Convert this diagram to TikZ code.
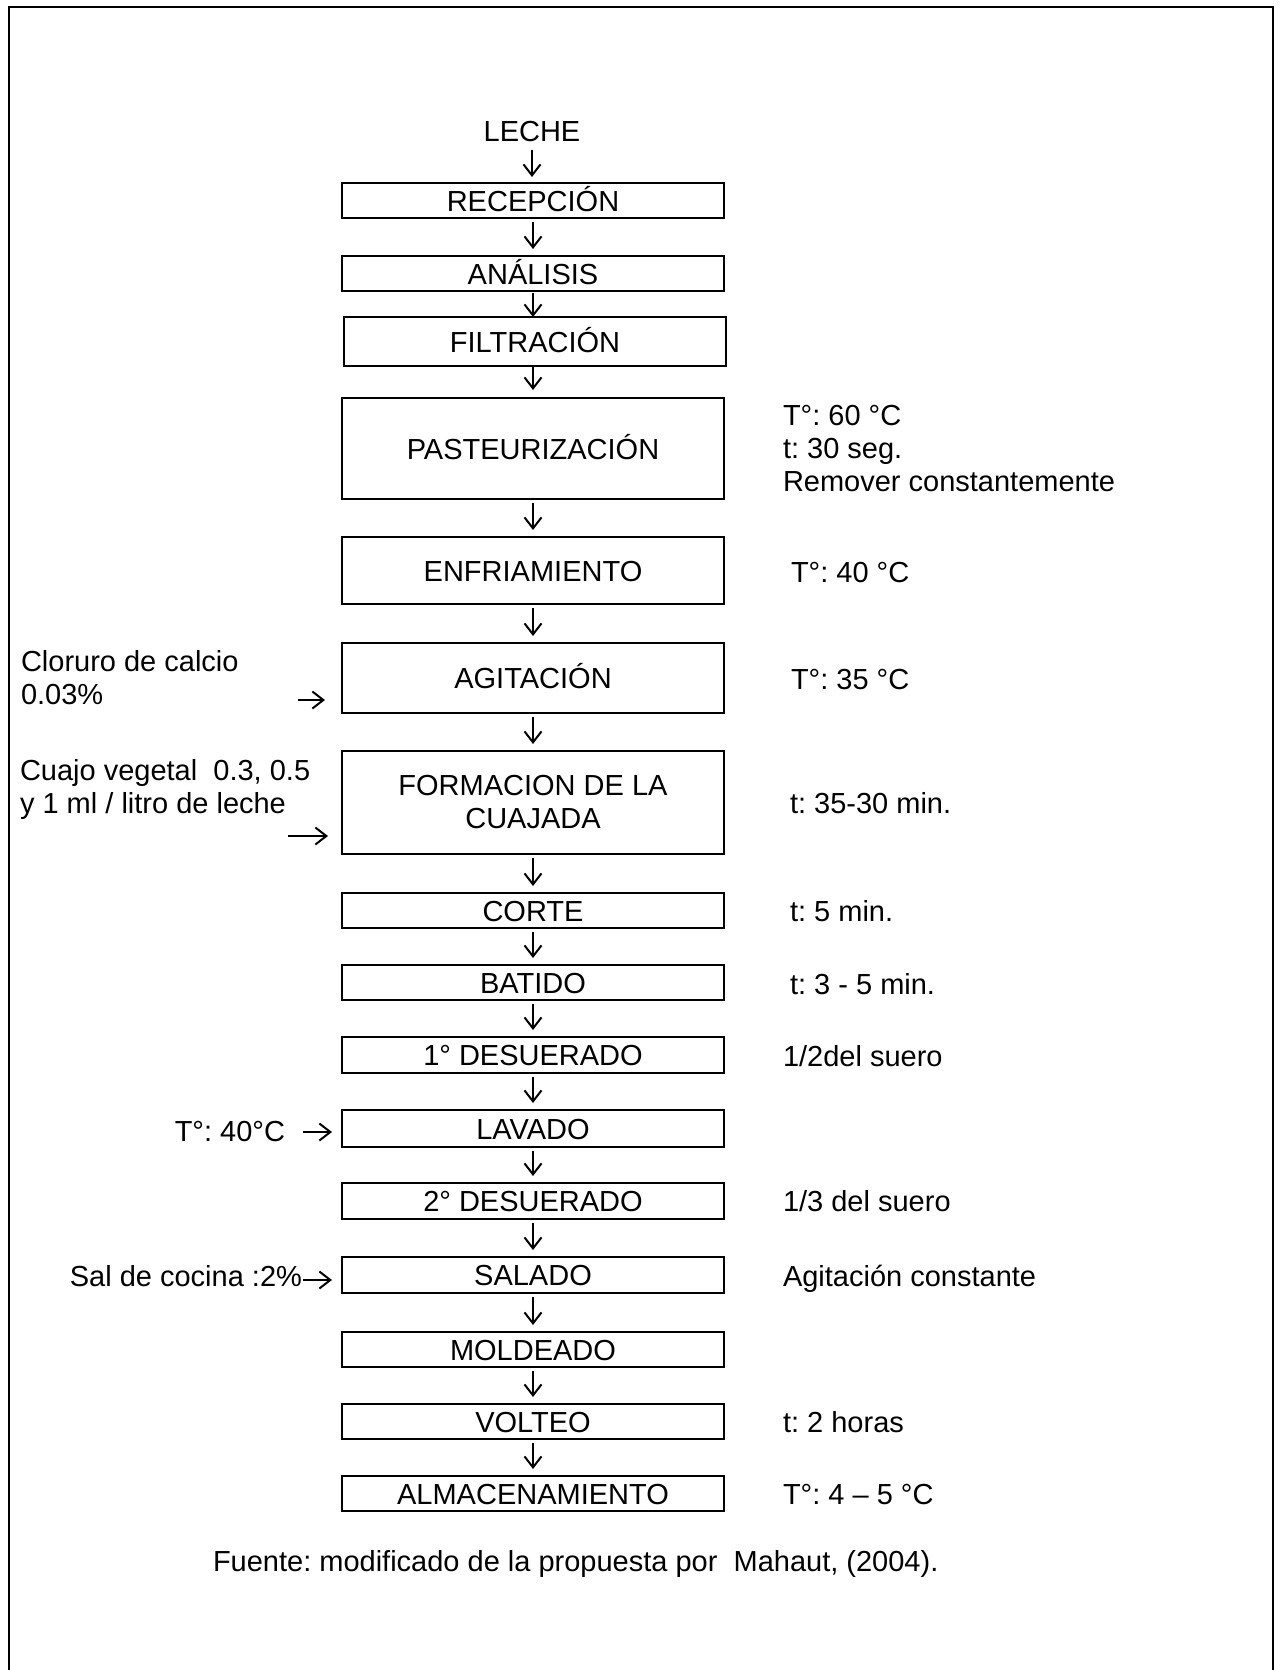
\documentclass[tikz,border=0pt]{standalone}
\usepackage{fontspec}
\setmainfont{Liberation Sans}
\usetikzlibrary{arrows.meta}
\frenchspacing
\begin{document}
\begin{tikzpicture}[x=1pt,y=-1pt,
  every node/.style={font=\fontsize{29}{33}\selectfont\frenchspacing, inner sep=0pt, outer sep=0pt},
  box/.style={draw, line width=2.2pt, minimum width=382pt, text height=21pt, text depth=0pt},
  boxtwo/.style={draw, line width=2.2pt, minimum width=382pt, align=center},
  varr/.style={line width=2pt, -{Straight Barb[length=11pt,width=17pt]}, shorten <=4pt, shorten >=7pt},
  harr/.style={line width=2pt, -{Straight Barb[length=11pt,width=17pt]}},
  note/.style={anchor=base west},
  notes/.style={anchor=north west, align=left},
  frameline/.style={line width=2.5pt}
]
\useasboundingbox (0,0) rectangle (1283,1670);
\draw[frameline] (9,1685) -- (9,7) -- (1273,7) -- (1273,1685);

% main column
\node (leche) at (532,131.6) {LECHE};
\node[box, minimum height=35pt] (rec) at (533,200.5) {RECEPCIÓN};
\node[box, minimum height=35pt] (ana) at (533,273.5) {ANÁLISIS};
\node[box, minimum height=49pt] (fil) at (535,341.5) {FILTRACIÓN};
\node[box, minimum height=101pt] (pas) at (533,448.5) {PASTEURIZACIÓN};
\node[box, minimum height=67pt] (enf) at (533,570.5) {ENFRIAMIENTO};
\node[box, minimum height=70pt] (agi) at (533,678) {AGITACIÓN};
\node[boxtwo, minimum height=103pt] (for) at (533,802.5) {FORMACION DE LA\\CUAJADA};
\node[box, minimum height=35pt] (cor) at (533,910.5) {CORTE};
\node[box, minimum height=35pt] (bat) at (533,982.5) {BATIDO};
\node[box, minimum height=36pt] (de1) at (533,1055) {1° DESUERADO};
\node[box, minimum height=37pt] (lav) at (533,1128.5) {LAVADO};
\node[box, minimum height=36pt] (de2) at (533,1201) {2° DESUERADO};
\node[box, minimum height=36pt] (sal) at (533,1275) {SALADO};
\node[box, minimum height=35pt] (mol) at (533,1349.5) {MOLDEADO};
\node[box, minimum height=35pt] (vol) at (533,1421.5) {VOLTEO};
\node[box, minimum height=35pt] (alm) at (533,1493.5) {ALMACENAMIENTO};

% vertical arrows
\draw[varr, shorten <=8pt, shorten >=6pt] (leche.south) -- (leche.south |- rec.north);
\draw[varr] (rec.south) -- (rec.south |- ana.north);
\draw[varr, shorten <=2pt, shorten >=0pt] (ana.south) -- (ana.south |- fil.north);
\draw[varr, shorten <=1pt, shorten >=8pt] (pas.north |- fil.south) -- (pas.north);
\draw[varr] (pas.south) -- (pas.south |- enf.north);
\draw[varr] (enf.south) -- (enf.south |- agi.north);
\draw[varr] (agi.south) -- (agi.south |- for.north);
\draw[varr] (for.south) -- (for.south |- cor.north);
\draw[varr] (cor.south) -- (cor.south |- bat.north);
\draw[varr] (bat.south) -- (bat.south |- de1.north);
\draw[varr] (de1.south) -- (de1.south |- lav.north);
\draw[varr] (lav.south) -- (lav.south |- de2.north);
\draw[varr] (de2.south) -- (de2.south |- sal.north);
\draw[varr] (sal.south) -- (sal.south |- mol.north);
\draw[varr] (mol.south) -- (mol.south |- vol.north);
\draw[varr] (vol.south) -- (vol.south |- alm.north);

% left inputs
\node[notes] (clo) at (21,650) {Cloruro de calcio\\0.03\%};
\coordinate (clo-a) at (298,700);
\draw[harr, shorten >=17pt] (clo-a) -- (clo-a -| agi.west);

\node[notes] (cua) at (20,759) {Cuajo vegetal\ \ 0.3, 0.5\\y 1 ml / litro de leche};
\coordinate (cua-a) at (288,836);
\draw[harr, shorten >=14pt] (cua-a) -- (cua-a -| for.west);

\node[anchor=base east] (tlav) at (285,1141) {T°: 40°C};
\coordinate (lav-a) at (303,1132);
\draw[harr, shorten >=10pt] (lav-a) -- (lav-a -| lav.west);

\node[anchor=base east] (sall) at (302,1286) {Sal de cocina :2\%};
\coordinate (sal-a) at (303,1280);
\draw[harr, shorten >=10pt] (sal-a) -- (sal-a -| sal.west);

% right notes
\node[notes] (npas) at (783,405) {T°: 60 °C\\t: 30 seg.\\Remover constantemente};
\node[note] (nenf) at (791,582) {T°: 40 °C};
\node[note] (nagi) at (791,689) {T°: 35 °C};
\node[note] (nfor) at (790,813) {t: 35-30 min.};
\node[note] (ncor) at (790,921) {t: 5 min.};
\node[note] (nbat) at (790,994) {t: 3 - 5 min.};
\node[note] (nde1) at (783,1066) {1/2del suero};
\node[note] (nde2) at (783,1211) {1/3 del suero};
\node[note] (nsal) at (783,1286) {Agitación constante};
\node[note] (nvol) at (783,1432) {t: 2 horas};
\node[note] (nalm) at (783,1504) {T°: 4 – 5 °C};

% source
\node[note] (src) at (213,1571) {Fuente: modificado de la propuesta por\ \ Mahaut, (2004).};
\end{tikzpicture}
\end{document}
